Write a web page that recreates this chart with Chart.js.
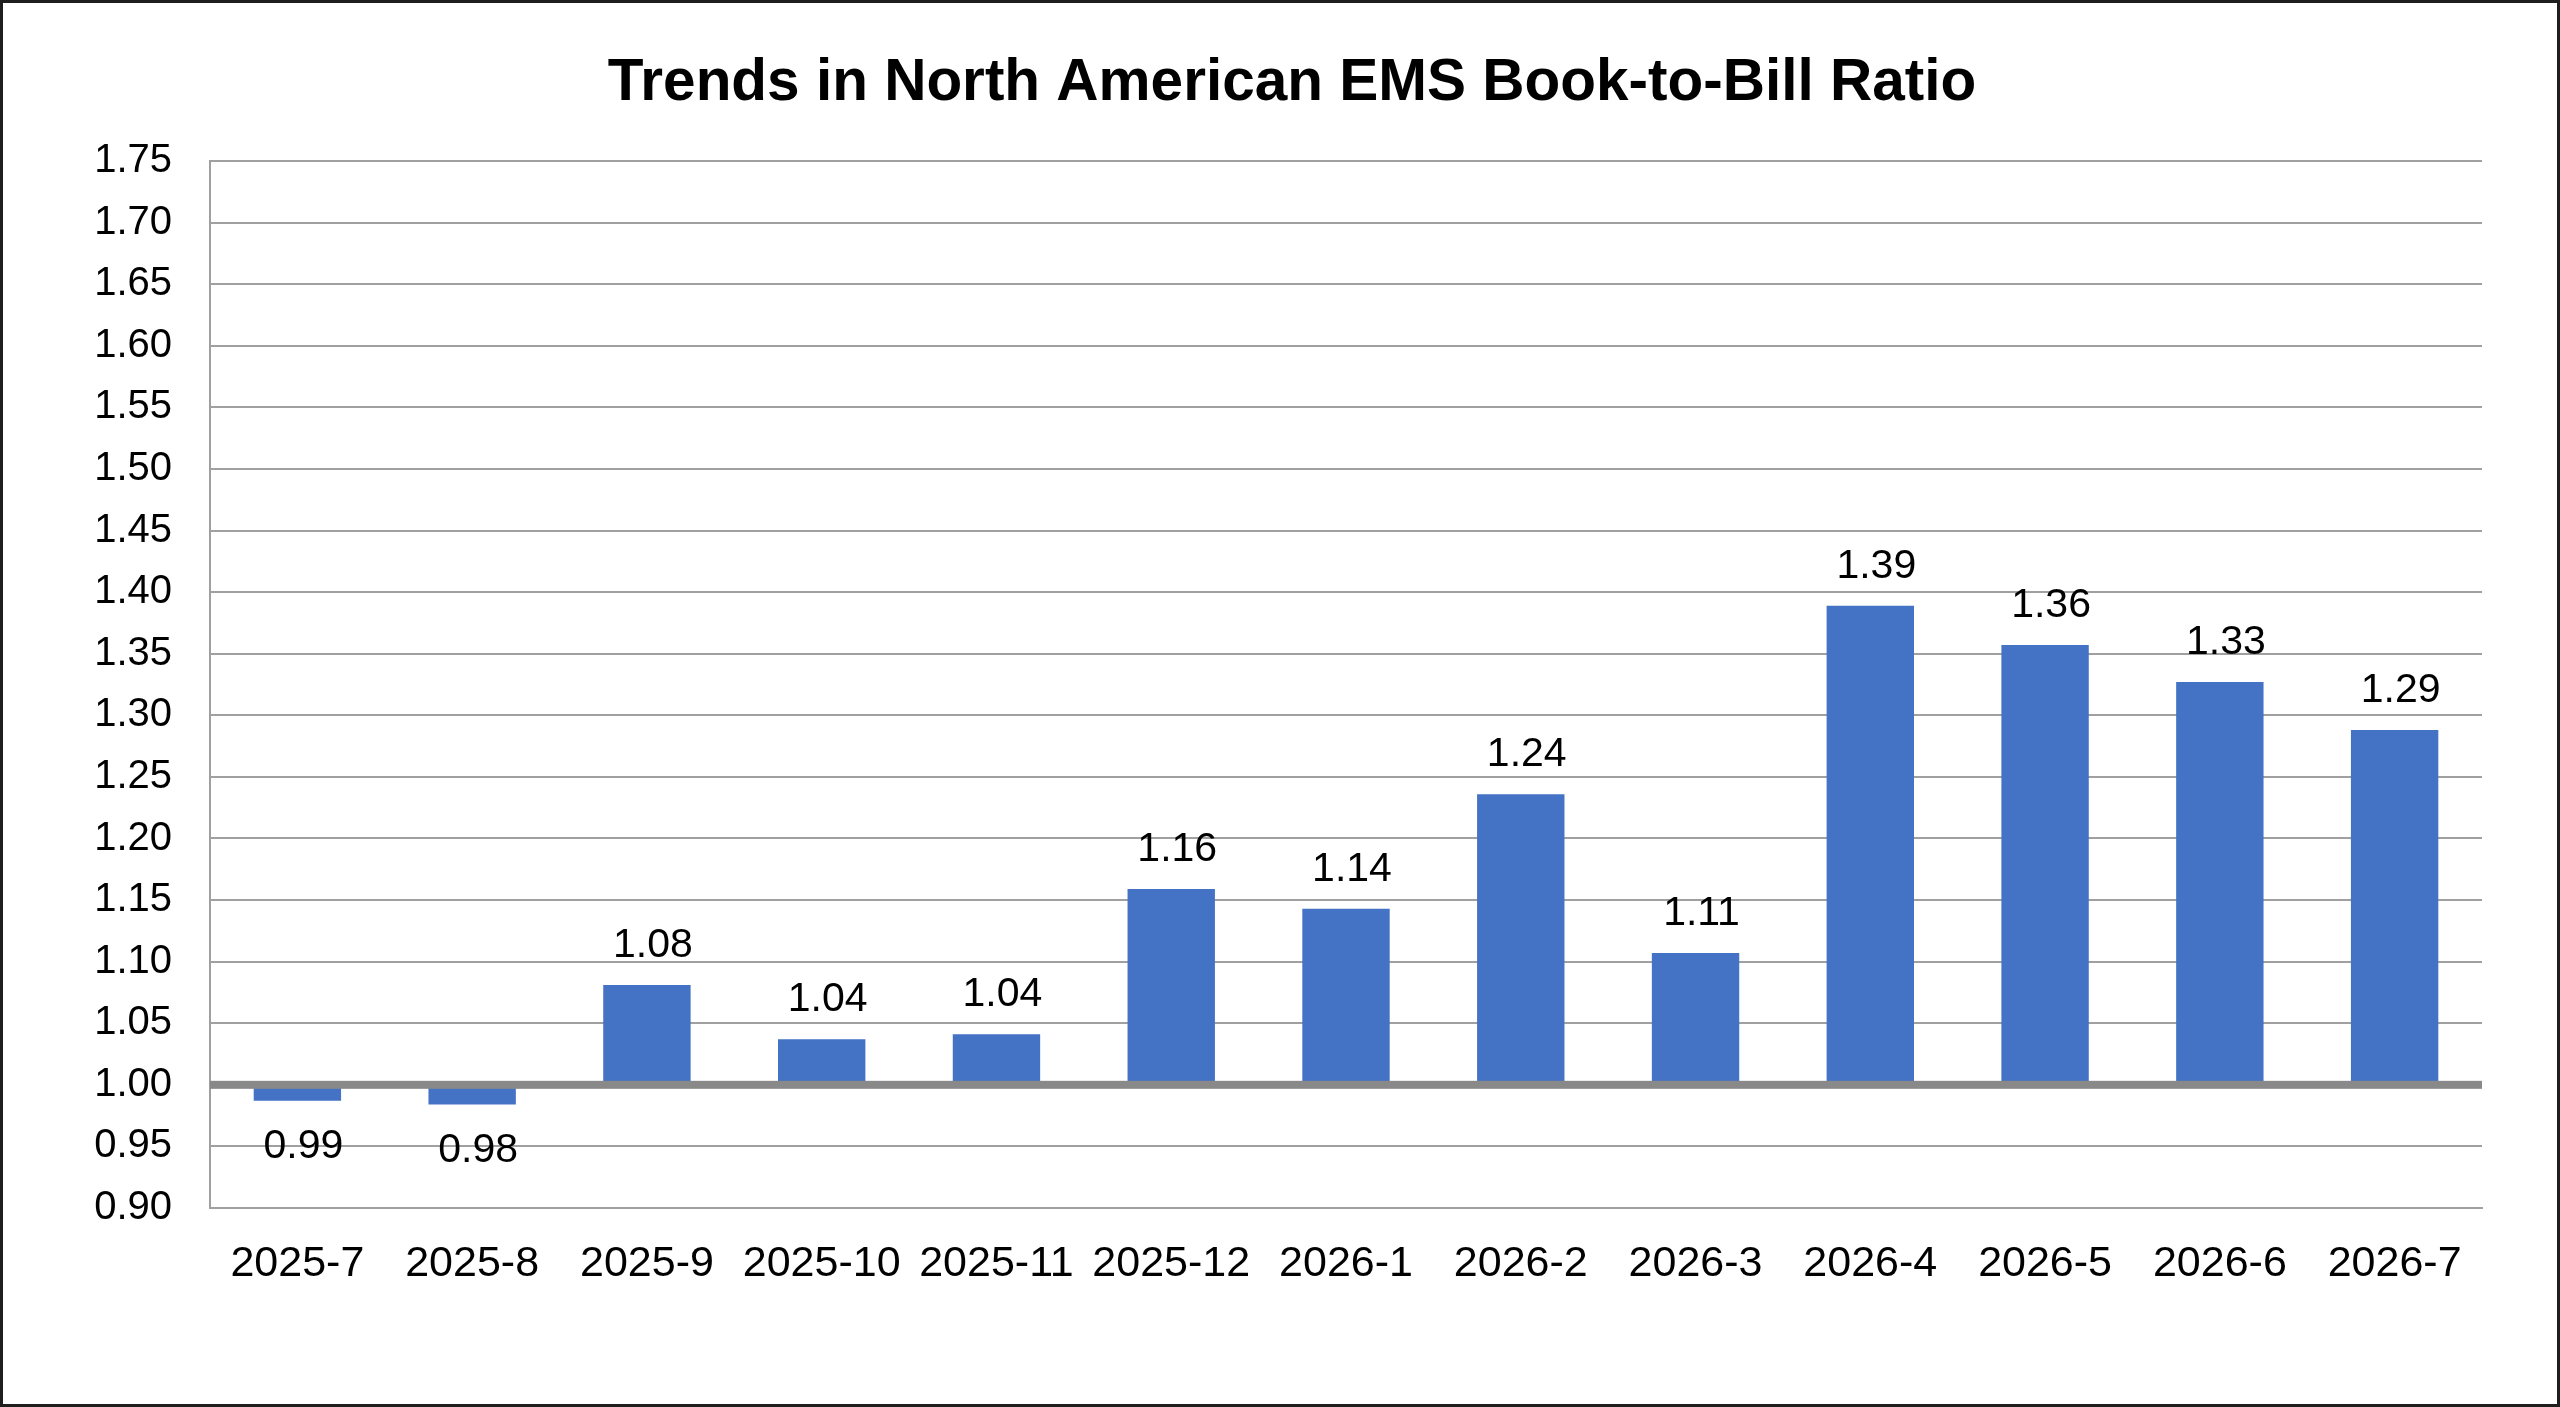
<!DOCTYPE html>
<html>
<head>
<meta charset="utf-8">
<script src="https://cdn.jsdelivr.net/npm/chart.js@4/dist/chart.umd.min.js"></script>
<style>
html,body{margin:0;padding:0;background:#fff;}
#wrap{width:2560px;height:1407px;position:relative;}
canvas{display:block;}
</style>
</head>
<body>
<div id="wrap"><canvas id="c" width="2560" height="1407"></canvas></div>
<script>
const categories = ['2025-7','2025-8','2025-9','2025-10','2025-11','2025-12','2026-1','2026-2','2026-3','2026-4','2026-5','2026-6','2026-7'];
const ratios = [0.987, 0.984, 1.081, 1.037, 1.041, 1.159, 1.143, 1.236, 1.107, 1.389, 1.357, 1.327, 1.288];
const ratioLabels = ['0.99','0.98','1.08','1.04','1.04','1.16','1.14','1.24','1.11','1.39','1.36','1.33','1.29'];
const yMin = 0.90, yMax = 1.75, yStep = 0.05, baseline = 1.00;
const titleText = 'Trends in North American EMS Book-to-Bill Ratio';

const FONT = "'Liberation Sans', Arial, Helvetica, sans-serif";

const decorPlugin = {
  id: 'decor',
  afterDatasetsDraw(chart) {
    const ctx = chart.ctx, ca = chart.chartArea, y = chart.scales.y;
    const py = y.getPixelForValue(baseline);
    ctx.save();
    ctx.fillStyle = '#898989';
    ctx.fillRect(ca.left, py - 4, ca.right - ca.left, 8);
    // data labels
    ctx.fillStyle = '#000';
    ctx.font = '41px ' + FONT;
    ctx.textAlign = 'center';
    ctx.textBaseline = 'alphabetic';
    const meta = chart.getDatasetMeta(0);
    meta.data.forEach((bar, i) => {
      const v = ratios[i];
      const x = bar.x + 6;
      if (v >= baseline) ctx.fillText(ratioLabels[i], x, bar.y - 28);
      else ctx.fillText(ratioLabels[i], x, bar.y + 57);
    });
    ctx.restore();
  },
  afterDraw(chart) {
    const ctx = chart.ctx;
    ctx.save();
    // chart title
    ctx.fillStyle = '#000';
    ctx.font = 'bold 58.5px ' + FONT;
    ctx.textAlign = 'center';
    ctx.textBaseline = 'alphabetic';
    ctx.fillText(titleText, 1292, 100);
    // outer frame
    ctx.strokeStyle = '#1e1e1e';
    ctx.lineWidth = 3;
    ctx.strokeRect(1.5, 1.5, 2557, 1404);
    ctx.restore();
  }
};

new Chart(document.getElementById('c'), {
  type: 'bar',
  data: {
    labels: categories,
    datasets: [{
      data: ratios,
      base: baseline,
      backgroundColor: '#4472C4',
      borderWidth: 0,
      categoryPercentage: 1.0,
      barPercentage: 0.5
    }]
  },
  options: {
    responsive: false,
    devicePixelRatio: 1,
    animation: false,
    layout: { padding: { left: 0, right: 78, top: 161, bottom: 0 } },
    plugins: {
      legend: { display: false },
      tooltip: { enabled: false },
      title: { display: false }
    },
    scales: {
      x: {
        grid: { display: false, drawTicks: false },
        border: { display: true, color: '#a0a0a0', width: 2 },
        ticks: { color: '#000', font: { family: FONT, size: 43 }, padding: 30, maxRotation: 0, autoSkip: false },
        afterFit(s) { s.height = 199; }
      },
      y: {
        min: yMin, max: yMax,
        grid: { color: '#a0a0a0', lineWidth: 2, drawTicks: false },
        border: { display: true, color: '#a0a0a0', width: 2 },
        ticks: {
          stepSize: yStep, color: '#000', padding: 38,
          font: { family: FONT, size: 40 },
          callback: (v) => Number(v).toFixed(2)
        },
        afterFit(s) { s.width = 210; }
      }
    }
  },
  plugins: [decorPlugin]
});
</script>
</body>
</html>
